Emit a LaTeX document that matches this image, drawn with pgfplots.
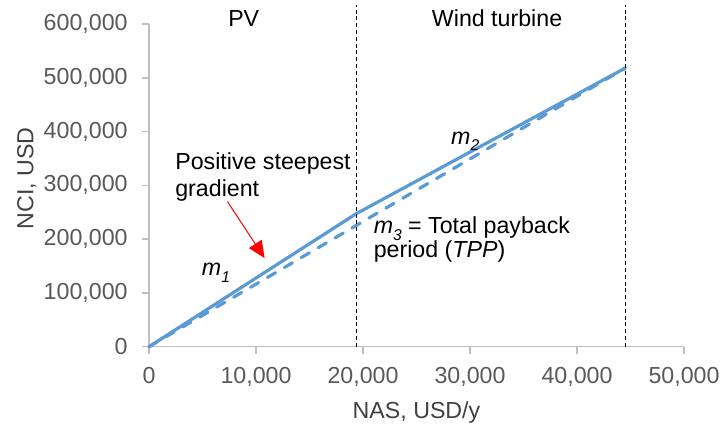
\documentclass[border=0pt]{standalone}
\usepackage{pgfplots}
\pgfplotsset{compat=1.18}
\usepackage{fontspec}
\setmainfont{Liberation Sans}
\usetikzlibrary{arrows.meta}
\definecolor{lineblue}{HTML}{5B9BD5}
\definecolor{axgray}{HTML}{BFBFBF}
\definecolor{ticktext}{HTML}{595959}
\definecolor{labtext}{HTML}{404040}
\newcommand{\sub}[1]{\smash{\raisebox{-0.3em}{\fontsize{7.8}{8}\selectfont\textit{#1}}}}
\begin{document}
\begin{tikzpicture}[font=\fontsize{11.6}{14}\selectfont]
\begin{axis}[
 scale only axis, width=267.5pt, height=161.35pt,
 xmin=0,xmax=50000,ymin=0,ymax=600000,
 axis x line=bottom, axis y line=left,
 axis line style={-, draw=axgray, line width=0.75pt},
 xtick={0,10000,20000,30000,40000,50000},
 ytick={0,100000,200000,300000,400000,500000,600000},
 tick align=outside, major tick length=3.4pt,
 tick style={draw=axgray, line width=0.75pt},
 scaled ticks=false,
 /pgf/number format/.cd, fixed, precision=0, 1000 sep={,}, assume math mode=true, /pgfplots/.cd,
 tick label style={text=ticktext},
 xticklabel style={anchor=north, inner sep=0pt, yshift=-6.6pt},
 yticklabel style={anchor=east, inner sep=0pt, xshift=-7.1pt},
 clip=false,
]
\addplot[lineblue, line width=1.6pt, line cap=round, dash pattern=on 4.7pt off 5.1pt] coordinates {(0,0) (44500,518000)};
\addplot[lineblue, line width=1.6pt, line cap=round, line join=round] coordinates {(0,0) (19400,247700) (44500,518000)};
\addplot[black, line width=0.5pt, dash pattern=on 2pt off 1.4pt] coordinates {(19400,0) (19400,635000)};
\addplot[black, line width=0.5pt, dash pattern=on 2pt off 1.4pt] coordinates {(44500,0) (44500,635000)};
\node[anchor=base] at (axis cs:8854,595000) {PV};
\node[anchor=base] at (axis cs:32530,595000) {Wind turbine};
\node[anchor=base west, inner sep=0pt] at (axis cs:2423,328600) {Positive steepest};
\node[anchor=base west, inner sep=0pt] at (axis cs:2423,278900) {gradient};
\draw[red, line width=0.5pt, -{Triangle[length=8.5pt,width=7.5pt]}] (axis cs:7331,269900) -- (axis cs:10807,164700);
\node[anchor=base west, inner sep=0pt] at (axis cs:4911,131500) {\textit{m}\sub{1}};
\node[anchor=base west, inner sep=0pt] at (axis cs:28210,376900) {\textit{m}\sub{2}};
\node[anchor=base west, inner sep=0pt] at (axis cs:20970,210900) {\textit{m}\sub{3} = Total payback};
\node[anchor=base west, inner sep=0pt] at (axis cs:20970,166200) {period (\textit{TPP})};
\node[rotate=90, text=labtext, anchor=base, inner sep=0pt] at (rel axis cs:-0.2163,0.522) {NCI, USD};
\node[text=labtext, anchor=base, inner sep=0pt] at (rel axis cs:0.5,-0.2219) {NAS, USD/y};
\end{axis}
\pgfresetboundingbox
\path[use as bounding box] (-74.5pt,-39.15pt) rectangle (286pt,173.35pt);
\end{tikzpicture}
\end{document}
